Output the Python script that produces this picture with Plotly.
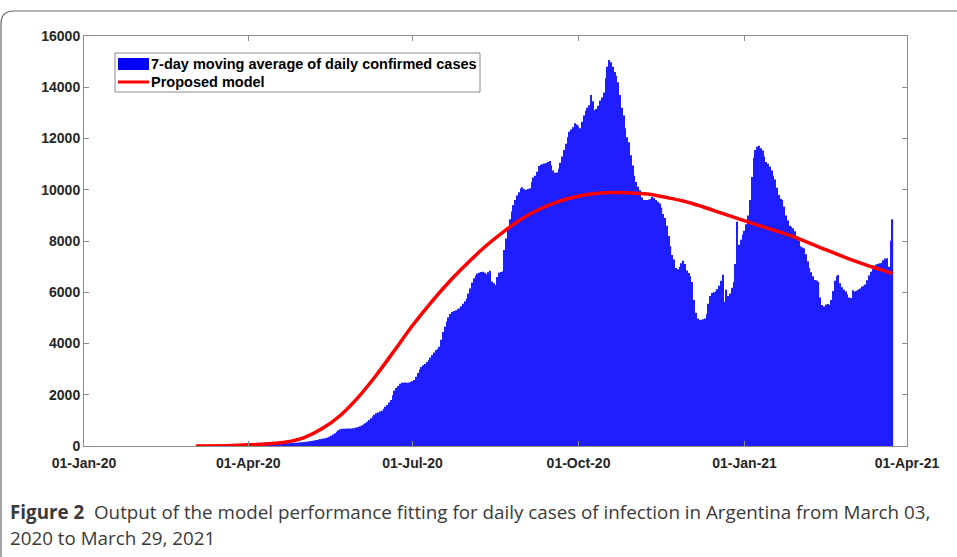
"""
Argentina daily cases vs. proposed model (Figure 2 recreation).
"""
import pandas as pd
import plotly.graph_objects as go

# 7-day moving average of daily confirmed cases, one value per day from 03-Mar-2020
CASES_MAR20 = [0, 0, 0, 1, 1, 1, 2, 2, 3, 3, 4, 5, 6, 8, 10, 13, 16, 20, 25, 30,
               36, 42, 50, 58, 66, 74, 80, 85, 88]
CASES_APR20 = [90, 92, 94, 95, 96, 97, 98, 99, 100, 100, 100, 99, 98, 97, 96, 95, 95, 96, 97, 98,
               100, 103, 106, 110, 114, 118, 123, 128, 134, 140]
CASES_MAY20 = [150, 158, 166, 175, 185, 196, 208, 220, 235, 250, 265, 280, 295, 310, 330, 360,
               400, 450, 500, 560, 610, 650, 670, 675, 678, 680, 682, 685, 690, 700, 720]
CASES_JUN20 = [740, 770, 810, 850, 885, 950, 1015, 1080, 1150, 1215, 1275, 1310, 1350, 1380, 1450,
               1530, 1600, 1700, 1795, 1980, 2160, 2260, 2340, 2430, 2470, 2470, 2475, 2470, 2480, 2500]
CASES_JUL20 = [2530, 2575, 2700, 2850, 2990, 3080, 3150, 3200, 3280, 3360, 3450, 3550, 3650, 3745,
               3800, 3870, 4150, 4450, 4650, 4850, 5020, 5150, 5230, 5270, 5300, 5340, 5370, 5450,
               5550, 5650, 5760]
CASES_AUG20 = [5950, 6150, 6380, 6550, 6650, 6730, 6760, 6790, 6800, 6760, 6700, 6780, 6840, 6420,
               6350, 6280, 6600, 6760, 6790, 6820, 7650, 8100, 8500, 8850, 9150, 9400, 9600, 9780,
               9900, 10050, 10100]
CASES_SEP20 = [10020, 10000, 10030, 10060, 10300, 10480, 10550, 10700, 10930, 10980, 11000, 11020,
               11040, 11080, 11120, 10960, 10750, 10660, 10670, 10820, 11050, 11300, 11550, 11800,
               12050, 12260, 12350, 12440, 12600, 12550]
CASES_OCT20 = [12480, 12400, 12650, 12900, 13085, 13200, 13300, 13695, 13450, 13100, 13150, 13280,
               13480, 13600, 13800, 14350, 14800, 15060, 14980, 14800, 14600, 14450, 14200, 13700,
               13200, 12900, 12400, 12050, 11850, 11350, 10950]
CASES_NOV20 = [10550, 10300, 10120, 9980, 9700, 9600, 9600, 9600, 9620, 9650, 9720, 9680, 9600,
               9530, 9460, 9300, 9050, 8900, 8600, 8200, 7800, 7450, 7280, 6950, 6900, 7000, 7130,
               7230, 7100, 6850]
CASES_DEC20 = [6750, 6620, 6400, 5700, 5200, 4980, 4910, 4930, 4950, 4980, 5150, 5550, 5850, 5970,
               6000, 6040, 6120, 6250, 6450, 6680, 5630, 6100, 5850, 5950, 6180, 6400, 7100, 8750,
               7850, 8050, 8250]
CASES_JAN21 = [8400, 8650, 9000, 9600, 10500, 11250, 11550, 11680, 11720, 11620, 11530, 11300,
               11080, 11010, 10900, 10750, 10550, 10400, 10080, 9800, 9650, 9600, 9350, 9000, 8800,
               8600, 8550, 8500, 8380, 8200, 8000]
CASES_FEB21 = [7800, 7760, 7715, 7480, 7200, 6950, 6780, 6620, 6480, 6460, 6400, 5800, 5500, 5440,
               5520, 5540, 5500, 5700, 6050, 6450, 6620, 6670, 6350, 6200, 6100, 6030, 5920, 5800]
CASES_MAR21 = [5780, 6080, 6020, 6050, 6100, 6150, 6220, 6250, 6300, 6470, 6650, 6800, 6900, 7000,
               7080, 7110, 7130, 7150, 7250, 7320, 7330, 7000, 8010, 8845]

# proposed model curve, read roughly every 10 days
MODEL_DATES = ['2020-03-03', '2020-03-23', '2020-04-12', '2020-04-22', '2020-05-02', '2020-05-12',
               '2020-05-22', '2020-06-01', '2020-06-11', '2020-06-21', '2020-07-01', '2020-07-11',
               '2020-07-21', '2020-07-31', '2020-08-10', '2020-08-20', '2020-08-30', '2020-09-09',
               '2020-09-19', '2020-09-29', '2020-10-09', '2020-10-19', '2020-10-29', '2020-11-08',
               '2020-11-18', '2020-11-28', '2020-12-08', '2020-12-18', '2020-12-28', '2021-01-07',
               '2021-01-17', '2021-01-27', '2021-02-06', '2021-02-16', '2021-02-26', '2021-03-08',
               '2021-03-18', '2021-03-24']
MODEL_VALUES = [0, 15, 85, 155, 330, 680, 1190, 1905, 2770, 3725, 4700, 5580, 6380, 7100, 7765,
                8340, 8840, 9230, 9520, 9715, 9840, 9890, 9880, 9835, 9705, 9560, 9355, 9120, 8885,
                8650, 8430, 8195, 7920, 7630, 7355, 7100, 6870, 6730]

X_TICKS = ['2020-01-01', '2020-04-01', '2020-07-01', '2020-10-01', '2021-01-01', '2021-04-01']
X_TICK_TEXT = ['01-Jan-20', '01-Apr-20', '01-Jul-20', '01-Oct-20', '01-Jan-21', '01-Apr-21']
Y_TICKS = [0, 2000, 4000, 6000, 8000, 10000, 12000, 14000, 16000]

BAR_NAME = '7-day moving average of daily confirmed cases'
MODEL_NAME = 'Proposed model'
CAPTION_1 = ('<b>Figure 2</b>  Output of the model performance fitting for daily cases of '
             'infection in Argentina from March 03,')
CAPTION_2 = '2020 to March 29, 2021'

W, H = 957, 557
L, R, T, B = 84, 907, 36, 446   # plot area in pixels


def px(x):
    return (x - L) / (R - L)


def py(y):
    return (B - y) / (B - T)


cases = (CASES_MAR20 + CASES_APR20 + CASES_MAY20 + CASES_JUN20 + CASES_JUL20 + CASES_AUG20
         + CASES_SEP20 + CASES_OCT20 + CASES_NOV20 + CASES_DEC20 + CASES_JAN21 + CASES_FEB21
         + CASES_MAR21)
dates = pd.date_range('2020-03-03', periods=len(cases), freq='D')

fig = go.Figure()
fig.add_trace(go.Bar(x=dates, y=cases, name=BAR_NAME, marker_color='#1e1eff',
                     marker_line_width=0, showlegend=False))
fig.add_trace(go.Scatter(x=MODEL_DATES, y=MODEL_VALUES, name=MODEL_NAME, mode='lines',
                         line=dict(color='#ff0000', width=3.5, shape='spline', smoothing=1.0),
                         showlegend=False))

axis_font = dict(family='Liberation Sans, Arial', size=14, color='#262626', weight='bold')
axis_common = dict(showline=True, linecolor='#8c8c8c', linewidth=1, mirror='ticks',
                   ticks='inside', ticklen=5, tickcolor='#8c8c8c', showgrid=False,
                   zeroline=False, tickfont=axis_font)

fig.update_layout(
    width=W, height=H,
    margin=dict(l=L, r=W - R, t=T, b=H - B),
    paper_bgcolor='white', plot_bgcolor='white',
    bargap=0.35,
    xaxis=dict(type='date', range=['2020-01-01', '2021-04-01'], tickvals=X_TICKS,
               ticktext=X_TICK_TEXT, ticklabelstandoff=4, **axis_common),
    yaxis=dict(range=[0, 16000], tickvals=Y_TICKS, tickformat='d', **axis_common),
)

# legend drawn by hand (MATLAB style box)
leg_font = dict(family='Liberation Sans, Arial', size=14.5, color='#000000')
fig.add_shape(type='rect', xref='paper', yref='paper', x0=px(115), x1=px(480), y0=py(92), y1=py(53),
              line=dict(color='#8c8c8c', width=1), fillcolor='white')
fig.add_shape(type='rect', xref='paper', yref='paper', x0=px(118), x1=px(149), y0=py(70), y1=py(58),
              line=dict(width=0), fillcolor='#0000ff')
fig.add_shape(type='line', xref='paper', yref='paper', x0=px(118), x1=px(149), y0=py(82), y1=py(82),
              line=dict(color='#ff0000', width=3))
fig.add_annotation(text='<b>%s</b>' % BAR_NAME, xref='paper', yref='paper', x=px(149), y=py(64),
                   xanchor='left', yanchor='middle', showarrow=False, font=leg_font)
fig.add_annotation(text='<b>%s</b>' % MODEL_NAME, xref='paper', yref='paper', x=px(149), y=py(82),
                   xanchor='left', yanchor='middle', showarrow=False, font=leg_font)

# caption under the figure
cap_font = dict(family='Open Sans, Noto Sans', size=18.8, color='#3a3a3a')
fig.add_annotation(text=CAPTION_1, xref='paper', yref='paper', x=px(8), y=py(512),
                   xanchor='left', yanchor='middle', showarrow=False, font=cap_font, align='left')
fig.add_annotation(text=CAPTION_2, xref='paper', yref='paper', x=px(8), y=py(538),
                   xanchor='left', yanchor='middle', showarrow=False, font=cap_font, align='left')

# frame around the figure, rounded top-left corner
fig.add_shape(type='path', xref='paper', yref='paper',
              path='M %f,%f L %f,%f Q %f,%f %f,%f L %f,%f' % (
                  px(960), py(11), px(14), py(11), px(1), py(11), px(1), py(24), px(1), py(560)),
              line=dict(color='#666666', width=1.2))

# drop the default page margin so the figure sits at the window's corner
fig.write_html('out.html', config={'displayModeBar': False},
               post_script="document.body.style.margin='0';"
                           "document.body.style.overflow='hidden';")
